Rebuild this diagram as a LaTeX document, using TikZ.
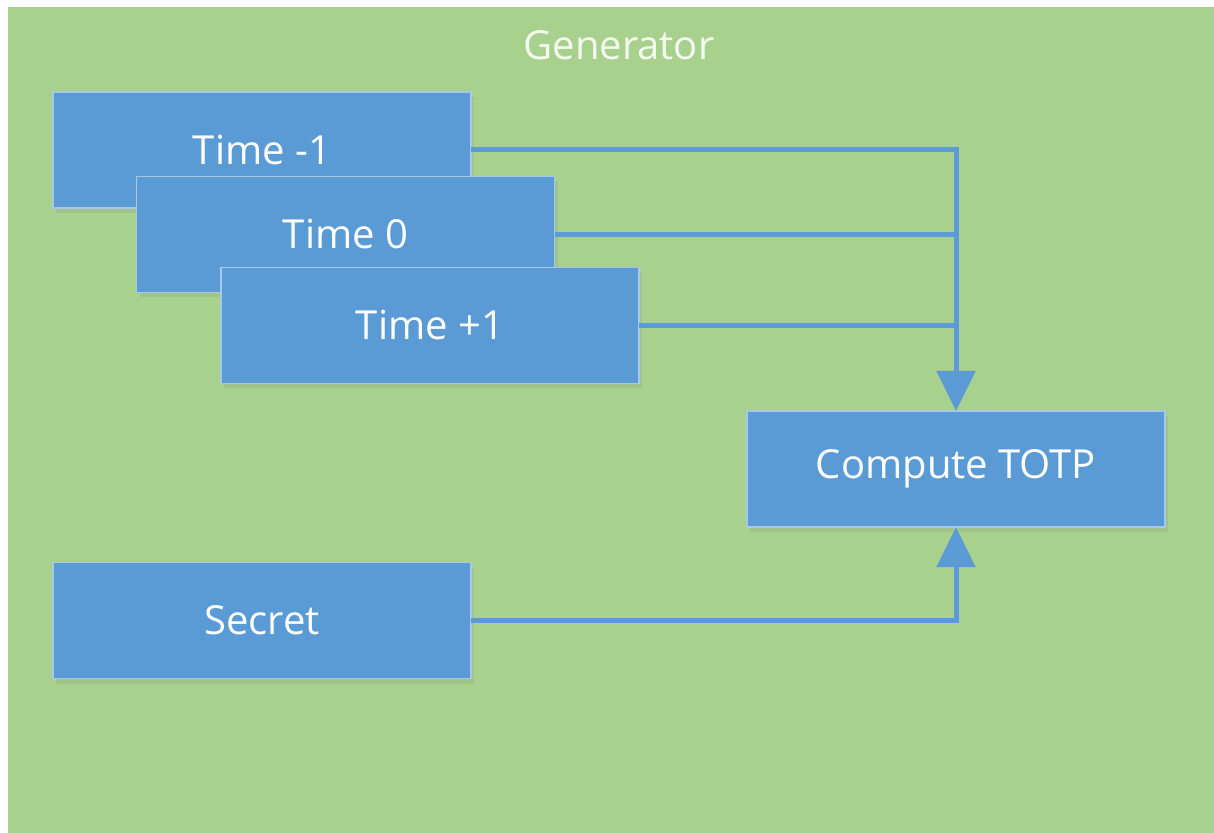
\documentclass[tikz,border=0pt]{standalone}
\usepackage{fontspec}
\setmainfont{Open Sans}
\usetikzlibrary{arrows.meta,shadows}
\definecolor{bggreen}{HTML}{A9D18E}
\definecolor{boxblue}{HTML}{5B9BD5}
\definecolor{edgeblue}{HTML}{A7C8E8}
\definecolor{textwhite}{HTML}{F4FAF0}
\tikzset{
  blockbox/.style={draw=edgeblue, line width=0.6pt, fill=boxblue, text=white,
    minimum width=209pt, minimum height=58pt, inner sep=0pt, outer sep=0pt,
    font=\fontsize{20}{24}\selectfont,
    drop shadow={opacity=0.18, shadow xshift=1.5pt, shadow yshift=-2.5pt}},
  link/.style={draw=boxblue, line width=2.5pt},
  linkarrow/.style={link, -{Triangle[width=19pt,length=20pt]}}
}
\begin{document}
\begin{tikzpicture}[x=0.5pt,y=-0.5pt]
\useasboundingbox (0,0) rectangle (1214,833);
\fill[white] (0,0) rectangle (1214,833);
\fill[bggreen] (8,7) rectangle (1214,833);
\node[text=textwhite, font=\fontsize{20}{24}\selectfont] (title) at (619,45) {Generator};

\node[blockbox] (tm1) at (262,150) {Time -1};
\node[blockbox] (t0) at (345.5,234.5) {Time 0};
\node[blockbox] (tp1) at (430,325.5) {Time +1};
\node[blockbox] (secret) at (262,620.5) {Secret};
\node[blockbox] (compute) at (956,469) {Compute TOTP};

\draw[link] (t0.east) -- (t0.east -| compute.north);
\draw[link] (tp1.east) -- (tp1.east -| compute.north);
\draw[linkarrow] (tm1.east) -| (compute.north);
\draw[linkarrow] (secret.east) -| (compute.south);
\end{tikzpicture}
\end{document}
